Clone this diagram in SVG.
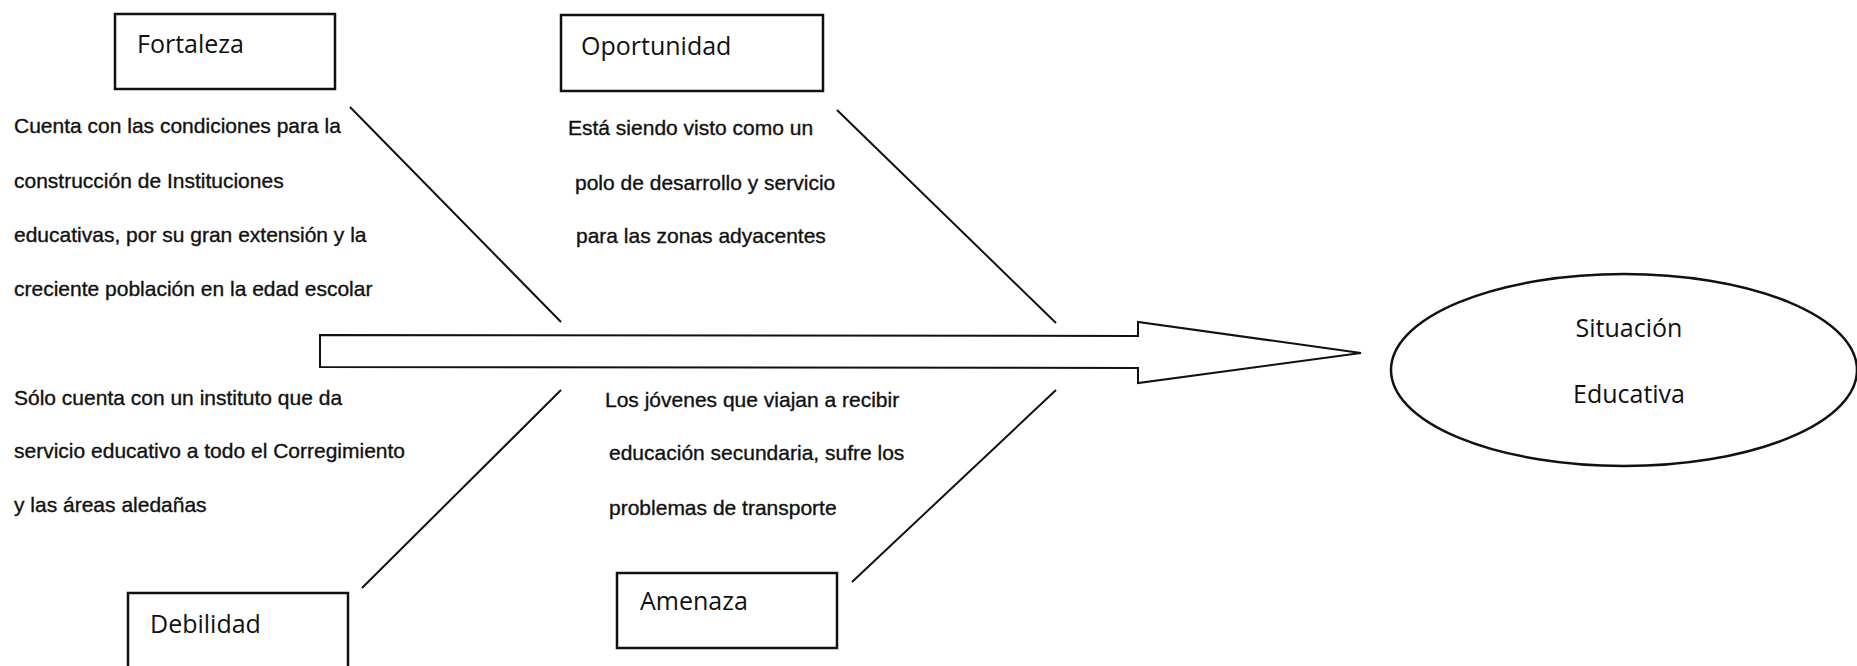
<svg xmlns="http://www.w3.org/2000/svg" width="1857" height="666" viewBox="0 0 1857 666">
<style>
.box{fill:#fff;stroke:#111;stroke-width:2.5}
.lbl{font-family:"Open Sans","Liberation Sans",sans-serif;font-size:25px;fill:#111}
.txt{font-family:"Liberation Sans",Arial,sans-serif;font-size:21px;fill:#111;stroke:#111;stroke-width:0.35}
.ln{stroke:#111;stroke-width:2;fill:none}
</style>
<rect width="1857" height="666" fill="#fff"/>
<g id="connectors">
<line class="ln" x1="350" y1="107" x2="561" y2="322"/>
<line class="ln" x1="837" y1="110" x2="1056" y2="323"/>
<line class="ln" x1="561" y1="390" x2="362" y2="588"/>
<line class="ln" x1="1056" y1="390" x2="852" y2="582"/>
<polygon class="ln" stroke-width="2.5" fill="#fff" points="320,335 1138,336 1138,322 1361,353 1138,383 1138,368 320,367"/>
</g>
<g id="fortaleza">
<rect class="box" x="115" y="14" width="220" height="75"/>
<text class="lbl" x="137" y="53">Fortaleza</text>
<text class="txt" x="14" y="133">Cuenta con las condiciones para la</text>
<text class="txt" x="14" y="188">construcción de Instituciones</text>
<text class="txt" x="14" y="242">educativas, por su gran extensión y la</text>
<text class="txt" x="14" y="296">creciente población en la edad escolar</text>
</g>
<g id="oportunidad">
<rect class="box" x="561" y="15" width="262" height="76"/>
<text class="lbl" x="581" y="55">Oportunidad</text>
<text class="txt" x="568" y="135">Está siendo visto como un</text>
<text class="txt" x="575" y="190">polo de desarrollo y servicio</text>
<text class="txt" x="576" y="243">para las zonas adyacentes</text>
</g>
<g id="debilidad">
<rect class="box" x="128" y="593" width="220" height="110"/>
<text class="lbl" x="150" y="633">Debilidad</text>
<text class="txt" x="14" y="405">Sólo cuenta con un instituto que da</text>
<text class="txt" x="14" y="458">servicio educativo a todo el Corregimiento</text>
<text class="txt" x="14" y="512">y las áreas aledañas</text>
</g>
<g id="amenaza">
<rect class="box" x="617" y="573" width="220" height="75"/>
<text class="lbl" x="640" y="610">Amenaza</text>
<text class="txt" x="605" y="407">Los jóvenes que viajan a recibir</text>
<text class="txt" x="609" y="460">educación secundaria, sufre los</text>
<text class="txt" x="609" y="515">problemas de transporte</text>
</g>
<g id="situacion">
<ellipse class="box" stroke-width="2" cx="1624" cy="370" rx="233" ry="96"/>
<text class="lbl" x="1629" y="337" text-anchor="middle">Situación</text>
<text class="lbl" x="1629" y="403" text-anchor="middle">Educativa</text>
</g>
</svg>
